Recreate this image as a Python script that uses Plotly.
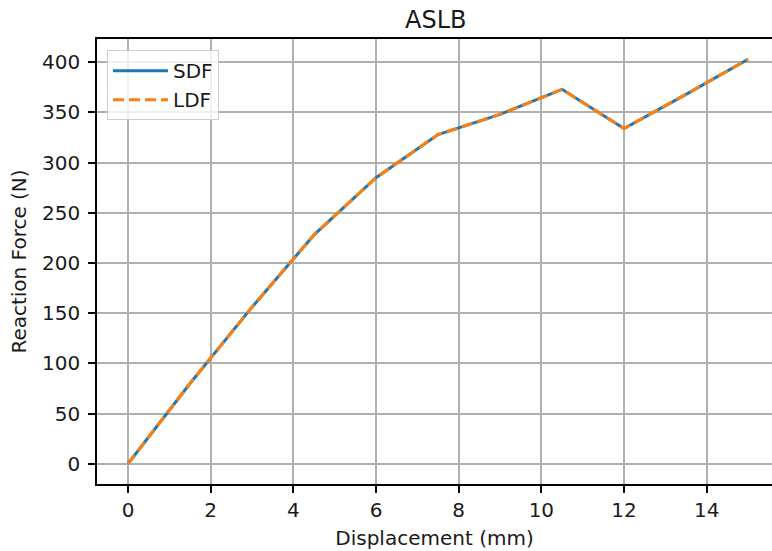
import plotly.graph_objects as go

displacement = [0, 1.5, 3, 4.5, 6, 7.5, 9, 10.5, 12, 13.5, 15]
sdf_force = [0, 80, 156, 228, 285, 328, 348, 373, 334, 368, 403]
ldf_force = [0, 80, 156, 228, 285, 328, 348, 373, 334, 368, 403]
x_ticks = [0, 2, 4, 6, 8, 10, 12, 14]
y_ticks = [0, 50, 100, 150, 200, 250, 300, 350, 400]

FONT = "DejaVu Sans"
TXT = "#1a1a1a"

fig = go.Figure()
fig.add_trace(go.Scatter(x=displacement, y=sdf_force, mode="lines", name="SDF",
                         line=dict(color="#1f77b4", width=3)))
fig.add_trace(go.Scatter(x=displacement, y=ldf_force, mode="lines", name="LDF",
                         line=dict(color="#ff7f0e", width=3, dash="11px,5px")))

axis_common = dict(
    showgrid=True, gridcolor="#b0b0b0", gridwidth=1.6,
    showline=True, linecolor="black", linewidth=1.6,
    ticks="outside", ticklen=7, tickwidth=1.6, tickcolor="black",
    tickfont=dict(family=FONT, size=20, color=TXT),
    zeroline=False, automargin=False,
)

fig.update_layout(
    width=772, height=551,
    paper_bgcolor="white", plot_bgcolor="white",
    margin=dict(l=97, r=0, t=39, b=67),
    font=dict(family=FONT, color=TXT),
    showlegend=True,
    legend=dict(x=0.0148, y=0.975, xanchor="left", yanchor="top",
                bgcolor="rgba(255,255,255,0.8)", bordercolor="#cccccc", borderwidth=1,
                font=dict(family=FONT, size=20, color=TXT),
                itemwidth=55, tracegroupgap=0),
    xaxis=dict(range=[-0.75, 15.58], tickvals=x_ticks, mirror=True,
               title=dict(text="Displacement (mm)", font=dict(family=FONT, size=20, color=TXT), standoff=10),
               **axis_common),
    yaxis=dict(range=[-20.15, 423.15], tickvals=y_ticks, ticklabelstandoff=4,
               title=dict(text="Reaction Force (N)", font=dict(family=FONT, size=20, color=TXT), standoff=10),
               **axis_common),
)

fig.add_annotation(text="ASLB", xref="paper", yref="paper", x=0.502, y=1 + (39 - 20) / 445,
                   xanchor="center", yanchor="middle", showarrow=False,
                   font=dict(family=FONT, size=24, color=TXT))

fig.write_html("out.html", config={"displayModeBar": False},
               post_script="document.body.style.margin='0';document.body.style.overflow='hidden';")
